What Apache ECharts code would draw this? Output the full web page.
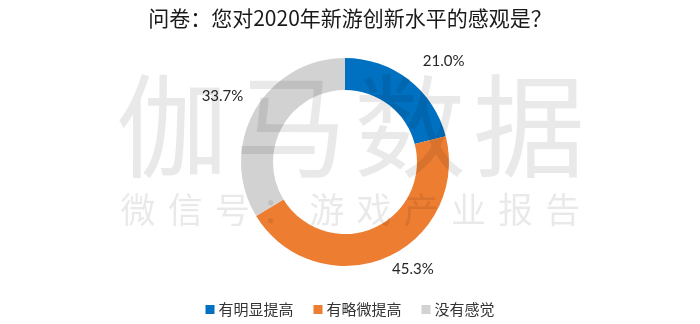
<!DOCTYPE html>
<html>
<head>
<meta charset="utf-8">
<script src="https://cdn.jsdelivr.net/npm/echarts@6/dist/echarts.min.js"></script>
<style>
  html, body { margin: 0; padding: 0; background: #fff; }
  #chart { width: 700px; height: 324px; }
</style>
</head>
<body>
<div id="chart"></div>
<script>
// Survey answers and their shares (%)
const categories = ['有明显提高', '有略微提高', '没有感觉'];
const shares = [21.0, 45.3, 33.7];
const colors = ['#0070C0', '#ED7D31', '#D2D2D2'];

// Per-slice label line reach [length, length2] used to place the outside labels
const labelReach = [[23, 0], [12, 2], [31, -16]];

// Watermark text
const markMain = ['伽', '马', '数', '据'];
const markSub = ['微', '信', '号', '：', '游', '戏', '产', '业', '报', '告'];

const chart = echarts.init(document.getElementById('chart'), null, { renderer: 'canvas' });

const pieData = categories.map((name, i) => ({
  name: name,
  value: shares[i],
  itemStyle: { color: colors[i] },
  labelLine: { show: false, length: labelReach[i][0], length2: labelReach[i][1] }
}));

const watermark = [];
markMain.forEach((ch, i) => {
  watermark.push({
    type: 'text', silent: true, z: 100,
    style: {
      x: 172 + i * 119, y: 126, text: ch,
      font: '112px "Noto Sans CJK SC"',
      fill: 'rgba(0,0,0,0.085)', align: 'center', verticalAlign: 'middle'
    }
  });
});
markSub.forEach((ch, i) => {
  watermark.push({
    type: 'text', silent: true, z: 100,
    style: {
      x: 138 + i * 47.2, y: 210, text: ch,
      font: '35px "Noto Sans CJK SC"',
      fill: 'rgba(0,0,0,0.085)', align: 'center', verticalAlign: 'middle'
    }
  });
});

chart.setOption({
  animation: false,
  backgroundColor: '#ffffff',
  title: {
    text: '问卷：您对2020年新游创新水平的感观是？',
    left: 'center',
    top: 3,
    textStyle: {
      fontFamily: '"Noto Sans CJK SC"',
      fontSize: 21,
      fontWeight: 'normal',
      color: '#1a1a1a'
    }
  },
  legend: {
    data: categories,
    bottom: 2,
    left: 'center',
    icon: 'rect',
    itemWidth: 9,
    itemHeight: 9,
    itemGap: 20,
    textStyle: {
      fontFamily: '"Noto Sans CJK SC"',
      fontSize: 15,
      color: '#333',
      padding: [0, 0, 0, -1]
    }
  },
  graphic: watermark,
  series: [{
    type: 'pie',
    center: [345, 162],
    radius: [72, 104],
    startAngle: 90,
    clockwise: true,
    avoidLabelOverlap: false,
    silent: true,
    label: {
      show: true,
      position: 'outside',
      distanceToLabelLine: 0,
      formatter: p => p.value.toFixed(1) + '%',
      fontFamily: 'Lato',
      fontSize: 15,
      color: '#262626'
    },
    data: pieData
  }]
});
</script>
</body>
</html>
